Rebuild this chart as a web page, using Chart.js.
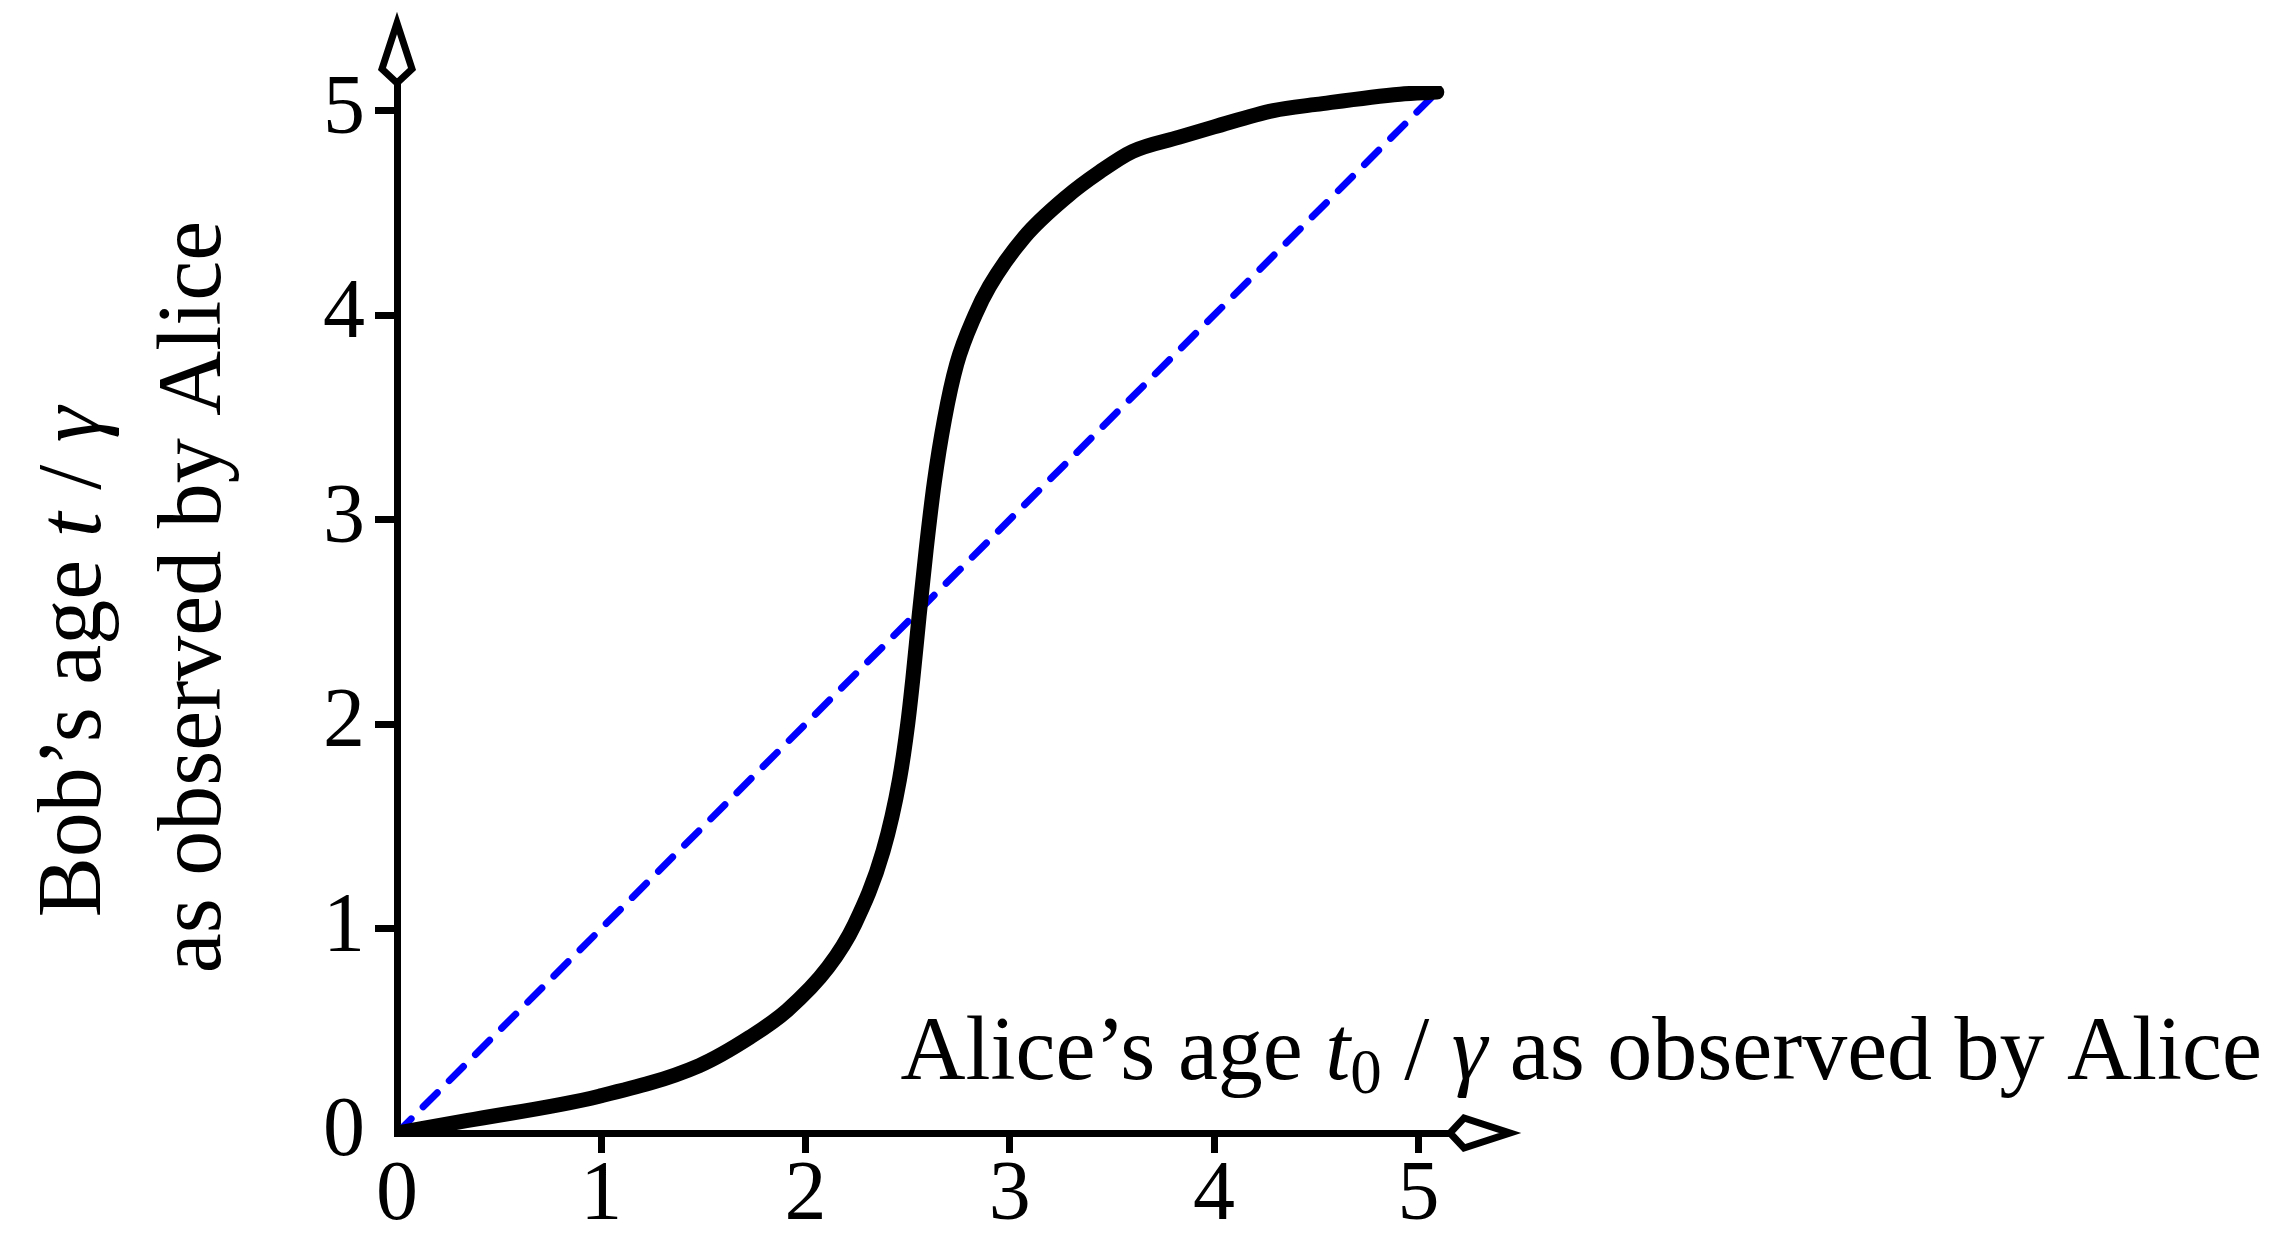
<!DOCTYPE html>
<html>
<head>
<meta charset="utf-8">
<script src="https://cdn.jsdelivr.net/npm/chart.js@4/dist/chart.umd.min.js"></script>
<style>
    html, body { margin: 0; padding: 0; background: #fff; }
    canvas { display: block; }
</style>
</head>
<body>
<canvas id="myChart" width="2296" height="1260"></canvas>
<script>
// アリスの年齢（横軸）とボブの年齢（縦軸）
const aliceAge = [0, 0.34, 0.99, 1.48, 1.73, 1.91, 2.11, 2.24, 2.38, 2.46, 2.50, 2.525, 2.555,
    2.59, 2.63, 2.68, 2.74, 2.83, 2.90, 3.07, 3.28, 3.44, 3.60, 3.83, 4.00, 4.29, 4.50, 4.91, 5.09];
const bobAge = [0, 0.06, 0.18, 0.33, 0.47, 0.60, 0.81, 1.02, 1.38, 1.73, 2.00, 2.22, 2.52,
    2.85, 3.18, 3.49, 3.76, 4.00, 4.14, 4.38, 4.58, 4.70, 4.80, 4.87, 4.92, 5.00, 5.03, 5.08, 5.09];
// 対角線（破線）
const diagX = [0, 5.09];
const diagY = [0, 5.09];
// 目盛り
const tickValues = [0, 1, 2, 3, 4, 5];

const FONT = "Liberation Serif";
const TITLE_SIZE = 90;

// 文字列を複数のフォントで並べて描く関数
function drawRuns(ctx, runs, x, y, align) {
    let total = 0;
    runs.forEach((r) => {
        ctx.font = r.font;
        r.w = ctx.measureText(r.text).width;
        total += r.w;
    });
    let cx = align === "right" ? x - total : align === "center" ? x - total / 2 : x;
    runs.forEach((r) => {
        ctx.font = r.font;
        ctx.fillText(r.text, cx, y + (r.dy || 0));
        cx += r.w;
    });
}

// 菱形の矢印を描く関数
function drawArrow(ctx, x, y, dx, dy) {
    const len = 60, side = 14, half = 15;
    const px = -dy, py = dx;
    ctx.beginPath();
    ctx.moveTo(x, y);
    ctx.lineTo(x + dx * side + px * half, y + dy * side + py * half);
    ctx.lineTo(x + dx * len, y + dy * len);
    ctx.lineTo(x + dx * side - px * half, y + dy * side - py * half);
    ctx.closePath();
    ctx.fill();
    ctx.stroke();
}

// 矢印と軸ラベルを描くプラグイン
const axisDecor = {
    id: "axisDecor",
    afterDraw(chart) {
        const { ctx, chartArea } = chart;
        ctx.save();
        ctx.lineWidth = 7;
        ctx.strokeStyle = "#000";
        ctx.fillStyle = "#fff";
        ctx.lineJoin = "miter";
        drawArrow(ctx, chartArea.right + 3, chartArea.bottom, 1, 0);
        drawArrow(ctx, chartArea.left, chartArea.top - 3, 0, -1);

        const normal = TITLE_SIZE + "px '" + FONT + "'";
        const italic = "italic " + normal;
        ctx.fillStyle = "#000";
        ctx.textAlign = "left";
        ctx.textBaseline = "alphabetic";

        // 横軸のラベル
        drawRuns(ctx, [
            { text: "Alice’s age ", font: normal },
            { text: "t", font: italic },
            { text: "0", font: Math.round(TITLE_SIZE * 0.7) + "px '" + FONT + "'", dy: 14 },
            { text: "\u2005/\u2005", font: normal },
            { text: "γ", font: italic },
            { text: " as observed by Alice", font: normal },
        ], 2262, 1079, "right");

        // 縦軸のラベル（2行）
        ctx.save();
        ctx.translate(100, 662);
        ctx.rotate(-Math.PI / 2);
        drawRuns(ctx, [
            { text: "Bob’s age ", font: normal },
            { text: "t", font: italic },
            { text: "\u2005/\u2005", font: normal },
            { text: "γ", font: italic },
        ], 0, 0, "center");
        ctx.restore();

        ctx.save();
        ctx.translate(220, 597);
        ctx.rotate(-Math.PI / 2);
        drawRuns(ctx, [{ text: "as observed by Alice", font: normal }], 0, 0, "center");
        ctx.restore();

        ctx.restore();
    },
};

// 目盛りの線（0 の位置は描かない）
function tickColor(c) {
    return c.tick && c.tick.value === 0 ? "rgba(0,0,0,0)" : "#000";
}

const curvePoints = aliceAge.map((x, i) => ({ x, y: bobAge[i] }));
const diagPoints = diagX.map((x, i) => ({ x, y: diagY[i] }));

const ctx = document.getElementById("myChart");
const myChart = new Chart(ctx, {
    type: "scatter",
    data: {
        datasets: [
            {
                data: curvePoints,
                showLine: true,
                borderColor: "#000",
                borderWidth: 15,
                borderCapStyle: "round",
                borderJoinStyle: "round",
                cubicInterpolationMode: "monotone",
                pointRadius: 0,
                order: 0,
            },
            {
                data: diagPoints,
                showLine: true,
                borderColor: "#0000ff",
                borderWidth: 7,
                borderDash: [20, 17],
                borderCapStyle: "round",
                pointRadius: 0,
                order: 1,
            },
        ],
    },
    options: {
        responsive: false,
        animation: false,
        events: [],
        layout: { padding: { left: 0, top: 86, right: 849, bottom: 0 } },
        plugins: { legend: { display: false }, tooltip: { enabled: false } },
        scales: {
            x: {
                type: "linear",
                min: 0,
                max: 5.14,
                afterFit: (s) => { s.height = 127; },
                afterBuildTicks: (s) => { s.ticks = tickValues.map((v) => ({ value: v })); },
                border: { display: true, color: "#000", width: 7 },
                grid: { drawOnChartArea: false, drawTicks: true, tickLength: 20, lineWidth: 7, color: tickColor },
                ticks: { color: "#000", font: { family: FONT, size: 84, lineHeight: 1 }, padding: 2, maxRotation: 0, autoSkip: false },
            },
            y: {
                type: "linear",
                min: 0,
                max: 5.12,
                afterFit: (s) => { s.width = 397; },
                afterBuildTicks: (s) => { s.ticks = tickValues.map((v) => ({ value: v })); },
                border: { display: true, color: "#000", width: 7 },
                grid: { drawOnChartArea: false, drawTicks: true, tickLength: 22, lineWidth: 7, color: tickColor },
                ticks: { color: "#000", font: { family: FONT, size: 84, lineHeight: 1 }, padding: 10, autoSkip: false },
            },
        },
    },
    plugins: [axisDecor],
});
</script>
</body>
</html>
